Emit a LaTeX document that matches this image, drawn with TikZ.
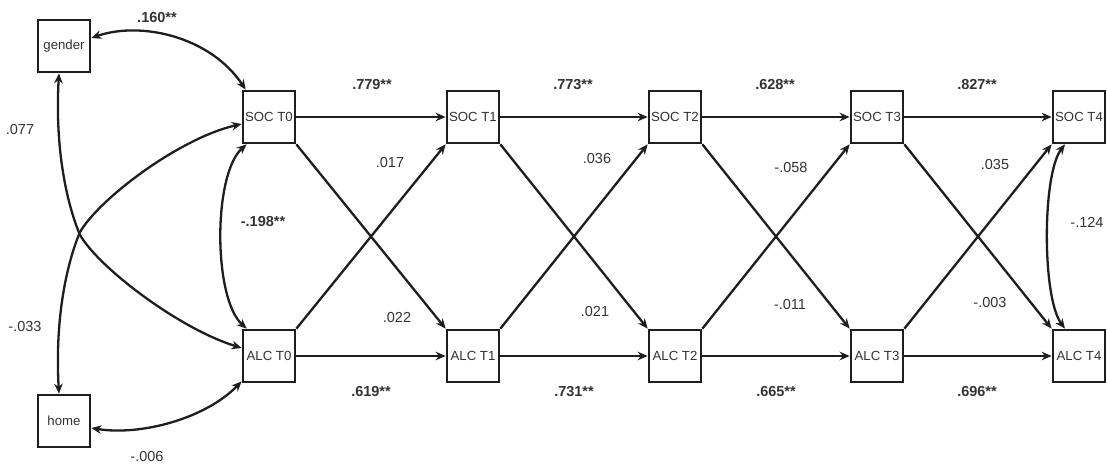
\documentclass[tikz,border=0pt]{standalone}
\usepackage{fontspec}
\setmainfont{Liberation Sans}
\usetikzlibrary{arrows.meta}
\definecolor{ln}{HTML}{1E1E1E}
\definecolor{tx}{HTML}{333333}
\begin{document}
\begin{tikzpicture}[x=1pt,y=1pt,
  box/.style={draw=ln,line width=2.7pt,minimum width=52pt,minimum height=52pt,inner sep=0pt,text=tx,font=\fontsize{13.2}{15}\selectfont},
  arr/.style={draw=ln,line width=2.3pt,-{Stealth[length=10pt,width=8.5pt]}},
  barr/.style={draw=ln,line width=2.3pt,{Stealth[length=10pt,width=8.5pt]}-{Stealth[length=10pt,width=8.5pt]}},
  carr/.style={draw=ln,line width=2.3pt},
  lab/.style={text=tx,font=\fontsize{14.5}{16}\selectfont,inner sep=0pt},
  blab/.style={text=tx,font=\bfseries\fontsize{14.5}{16}\selectfont,inner sep=0pt}]
\useasboundingbox (0,0) rectangle (1107,464);
\fill[white] (0,0) rectangle (1107,464);
% nodes
\node[box] (gender) at (64,418) {gender};
\node[box] (home) at (64,43) {home};
\node[box] (soc0) at (269,347) {SOC T0};
\node[box] (soc1) at (473,347) {SOC T1};
\node[box] (soc2) at (675,347) {SOC T2};
\node[box] (soc3) at (877,347) {SOC T3};
\node[box] (soc4) at (1079,347) {SOC T4};
\node[box] (alc0) at (269,108) {ALC T0};
\node[box] (alc1) at (473,108) {ALC T1};
\node[box] (alc2) at (675,108) {ALC T2};
\node[box] (alc3) at (877,108) {ALC T3};
\node[box] (alc4) at (1079,108) {ALC T4};
% horizontal and cross paths
\foreach \a/\b in {0/1,1/2,2/3,3/4}{
  \draw[arr] (soc\a.east) -- (soc\b.west);
  \draw[arr] (alc\a.east) -- (alc\b.west);
  \draw[arr] (soc\a.south east) -- (alc\b.north west);
  \draw[arr] (alc\a.north east) -- (soc\b.south west);
}
% covariances
\coordinate (x1) at (80,229);
\coordinate (x2) at (80,232);
\draw[barr] ([yshift=8pt]gender.east) .. controls (140,443) and (210,428) .. ([xshift=4pt]soc0.north west);
\draw[carr,{Stealth[length=10pt,width=8.5pt]}-] ([xshift=-5pt]gender.south) .. controls (55,320) and (65,265) .. (x1);
\draw[carr,-{Stealth[length=10pt,width=8.5pt]}] (x1) .. controls (100,195) and (180,135) .. ([yshift=8pt]alc0.west);
\draw[carr,{Stealth[length=10pt,width=8.5pt]}-] ([xshift=-5pt]home.north) .. controls (55,141) and (65,196) .. (x2);
\draw[carr,-{Stealth[length=10pt,width=8.5pt]}] (x2) .. controls (100,266) and (180,326) .. ([yshift=-7pt]soc0.west);
\draw[barr] ([yshift=-7pt]home.east) .. controls (140,28) and (205,45) .. ([yshift=2pt]alc0.south west);
\draw[barr] ([xshift=5pt]soc0.south west) .. controls (213,290) and (213,166) .. ([xshift=5pt]alc0.north west);
\draw[barr] ([xshift=-14pt]soc4.south) .. controls (1042,290) and (1042,166) .. ([xshift=-14pt]alc4.north);
% labels
\node[blab] (l1) at (157,446) {.160**};
\node[lab] (l2) at (20,334) {.077};
\node[blab] (l3) at (263,242) {-.198**};
\node[lab] (l4) at (25,137) {-.033};
\node[lab] (l5) at (147,7) {-.006};
\node[blab] (t1) at (372,379) {.779**};
\node[blab] (t2) at (573,379) {.773**};
\node[blab] (t3) at (775,379) {.628**};
\node[blab] (t4) at (977,379) {.827**};
\node[blab] (b1) at (371,72) {.619**};
\node[blab] (b2) at (574,72) {.731**};
\node[blab] (b3) at (776,72) {.665**};
\node[blab] (b4) at (977,72) {.696**};
\node[lab] (c1) at (390,301) {.017};
\node[lab] (c2) at (597,305) {.036};
\node[lab] (c3) at (791,296) {-.058};
\node[lab] (c4) at (995,299) {.035};
\node[lab] (d1) at (397,146) {.022};
\node[lab] (d2) at (595,152) {.021};
\node[lab] (d3) at (790,159) {-.011};
\node[lab] (d4) at (990,161) {-.003};
\node[lab] (e1) at (1087,242) {-.124};
\end{tikzpicture}
\end{document}
